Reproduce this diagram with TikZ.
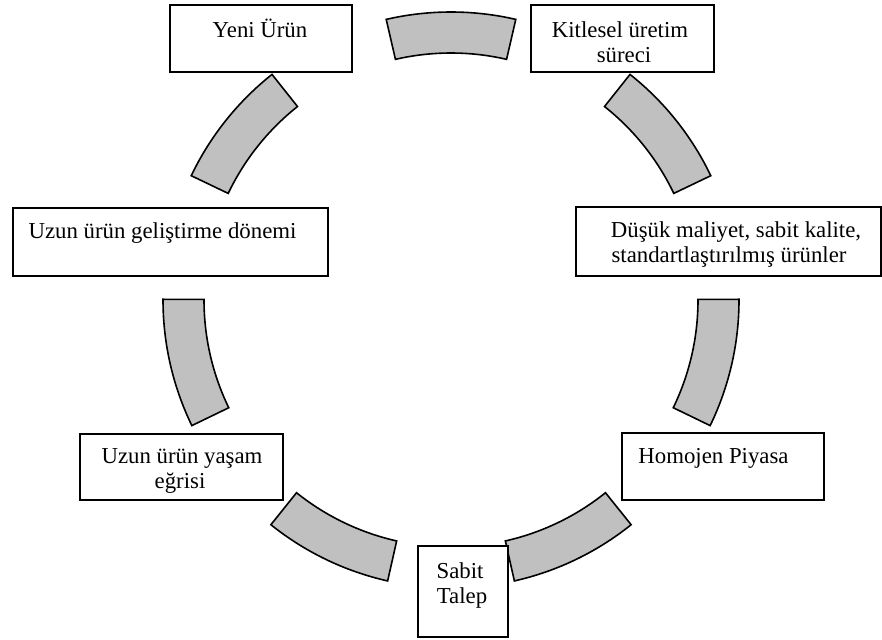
\documentclass[tikz,border=0pt]{standalone}
\usepackage{fontspec}
\setmainfont{Liberation Serif}
\definecolor{segfill}{RGB}{192,192,192}
\tikzset{
  box/.style={draw, line width=0.8pt, fill=white, inner sep=0pt, anchor=north west},
  txt/.style={inner sep=0pt, anchor=base, font=\fontsize{11.4}{12.5}\selectfont},
  seg/.style={draw, line width=0.8pt, fill=segfill, line join=miter}
}
\begin{document}
\begin{tikzpicture}[x=0.5pt, y=0.5pt]
\useasboundingbox (0,0) rectangle (882,-639);
% ring segments
\coordinate (C) at (451,-300);
\foreach \a in {90, 38.571, -12.857, -64.286, -115.714, -167.143, 141.429} {
  \pgfmathsetmacro{\aa}{\a-13}
  \pgfmathsetmacro{\ab}{\a+13}
  \draw[seg, shift={(C)}] (\aa:288) arc[start angle=\aa, end angle=\ab, radius=288]
     -- (\ab:247) arc[start angle=\ab, end angle=\aa, radius=247] -- cycle;
}
% boxes
\node[box, minimum width=91pt, minimum height=33.5pt] (yeni) at (169,-4) {};
\node[box, minimum width=91.5pt, minimum height=33.5pt] (kit) at (530,-4) {};
\node[box, minimum width=152.5pt, minimum height=34.5pt] (dus) at (575,-206) {};
\node[box, minimum width=157.5pt, minimum height=34pt] (gel) at (12,-207) {};
\node[box, minimum width=101.5pt, minimum height=33pt] (yasam) at (79,-433) {};
\node[box, minimum width=45pt, minimum height=45.5pt] (sabit) at (417,-545) {};
\node[box, minimum width=101pt, minimum height=33.5pt] (homo) at (621,-432) {};
% texts
\node[txt] (yeniT) at (260,-37) {Yeni Ürün};
\node[txt] (kitA) at (620,-37) {Kitlesel üretim};
\node[txt] (kitB) at (624,-62) {süreci};
\node[txt] (dusA) at (736,-237) {Düşük maliyet, sabit kalite,};
\node[txt] (dusB) at (729,-262) {standartlaştırılmış ürünler};
\node[txt] (gelT) at (162.5,-238) {Uzun ürün geliştirme dönemi};
\node[txt] (yasA) at (182,-463) {Uzun ürün yaşam};
\node[txt] (yasB) at (180,-488) {eğrisi};
\node[txt] (sabA) at (460,-578) {Sabit};
\node[txt] (sabB) at (462,-603) {Talep};
\node[txt] (homoT) at (713.5,-463) {Homojen Piyasa};
\end{tikzpicture}
\end{document}
